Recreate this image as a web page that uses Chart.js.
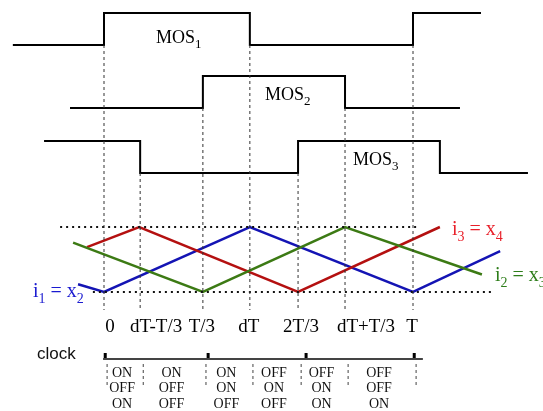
<!DOCTYPE html>
<html>
<head>
<meta charset="utf-8">
<script src="https://cdn.jsdelivr.net/npm/chart.js@4/dist/chart.umd.min.js"></script>
<style>
  html, body { margin: 0; padding: 0; background: #fff; }
</style>
</head>
<body>
<canvas id="chart" width="543" height="411"></canvas>
<script>
// event times over one period (T = 1)
const tickTimes = [0, 0.117, 0.32, 0.472, 0.628, 0.78, 1];
const tickLabels = ['0', 'dT-T/3', 'T/3', 'dT', '2T/3', 'dT+T/3', 'T'];

// gate signals, each state holds until the next time
const mos1Times = [-0.295, 0, 0.472, 1, 1.22];
const mos1States = [0, 1, 0, 1, 1];
const mos2Times = [-0.11, 0.32, 0.78, 1.152];
const mos2States = [0, 1, 0, 0];
const mos3Times = [-0.194, 0.117, 0.628, 1.087, 1.372];
const mos3States = [1, 0, 1, 0, 0];
const mosNames = ['MOS_1', 'MOS_2', 'MOS_3'];

// phase currents, 0 = lower dotted line, 1 = upper dotted line
const i1Times = [-0.084, 0, 0.472, 1, 1.282];
const i1Values = [0.12, 0, 1, 0, 0.63];
const i2Times = [-0.1, 0.32, 0.78, 1.223];
const i2Values = [0.76, 0, 1, 0.27];
const i3Times = [-0.055, 0.114, 0.628, 1.087];
const i3Values = [0.69, 1, 0, 1];
const currentNames = ['i_1 = x_2', 'i_2 = x_3', 'i_3 = x_4'];

const clockTimes = [0, 0.333, 0.65, 1];

// switch states in each interval between the ticks
const mos1Status = ['ON', 'ON', 'ON', 'OFF', 'OFF', 'OFF'];
const mos2Status = ['OFF', 'OFF', 'ON', 'ON', 'ON', 'OFF'];
const mos3Status = ['ON', 'OFF', 'OFF', 'OFF', 'ON', 'ON'];

// layout (vertical units run top to bottom)
const rows = [
  { high: 13, low: 45 },
  { high: 76, low: 108 },
  { high: 141, low: 173 }
];
const band = { top: 227, bottom: 292 };
const guideBottom = 310;
const guideTops = [45, 173, 108, 45, 173, 108, 45];
const clockY = 359;
const serif = '"Liberation Serif", "Times New Roman", serif';
const colors = { i1: '#1414b4', i2: '#3c7a14', i3: '#b41010' };
const labelColors = ['#1a1ad0', '#2e7d1a', '#e8202a'];

const stepData = (times, states, row) =>
  times.map((t, i) => ({ x: t, y: states[i] ? row.high : row.low }));
const currentData = (times, values) =>
  times.map((t, i) => ({ x: t, y: band.bottom - values[i] * (band.bottom - band.top) }));
const seg = (x1, y1, x2, y2) => [{ x: x1, y: y1 }, { x: x2, y: y2 }];

const datasets = [];
const line = (data, color, width, dash, extra) =>
  datasets.push(Object.assign({
    data, borderColor: color, borderWidth: width, borderDash: dash || [],
    showLine: true, pointRadius: 0, fill: false, tension: 0
  }, extra || {}));

// dashed guides
tickTimes.forEach((t, i) => line(seg(t, guideTops[i], t, guideBottom), '#333', 1, [3, 3]));
// dotted limits
line(seg(-0.142, band.top, 1.023, band.top), '#111', 2, [2, 4]);
line(seg(-0.036, band.bottom, 1.256, band.bottom), '#111', 2, [2, 4]);

line(stepData(mos1Times, mos1States, rows[0]), '#000', 2, null, { stepped: true });
line(stepData(mos2Times, mos2States, rows[1]), '#000', 2, null, { stepped: true });
line(stepData(mos3Times, mos3States, rows[2]), '#000', 2, null, { stepped: true });

line(currentData(i2Times, i2Values), colors.i2, 2.5);
line(currentData(i3Times, i3Values), colors.i3, 2.5);
line(currentData(i1Times, i1Values), colors.i1, 2.5);

// clock
line(seg(-0.003, clockY, 1.032, clockY), '#444', 2);
clockTimes.forEach(t => line(seg(t + 0.004, clockY - 6, t + 0.004, clockY), '#000', 3));
// table separators
tickTimes.forEach(t => line(seg(t + 0.01, 364, t + 0.01, 388), '#444', 1, [3, 3]));

// text with "_x" subscripts
function drawSub(ctx, text, x, y, size, color, align) {
  const parts = [];
  text.split(/(_.)/).forEach(p => {
    if (!p) return;
    if (p[0] === '_') parts.push({ s: p[1], sub: true });
    else parts.push({ s: p, sub: false });
  });
  const font = sub => (sub ? Math.round(size * 0.7) : size) + 'px ' + serif;
  let w = 0;
  parts.forEach(p => { ctx.font = font(p.sub); w += ctx.measureText(p.s).width; });
  let cx = align === 'center' ? x - w / 2 : x;
  ctx.fillStyle = color;
  ctx.textAlign = 'left';
  ctx.textBaseline = 'alphabetic';
  parts.forEach(p => {
    ctx.font = font(p.sub);
    ctx.fillText(p.s, cx, p.sub ? y + size * 0.28 : y);
    cx += ctx.measureText(p.s).width;
  });
}

const textPlugin = {
  id: 'texts',
  afterDatasetsDraw(chart) {
    const ctx = chart.ctx;
    const xs = chart.scales.x, ys = chart.scales.y;
    const px = t => xs.getPixelForValue(t);
    const py = v => ys.getPixelForValue(v);
    ctx.save();

    const mosPos = [[0.168, 43], [0.521, 100], [0.806, 165]];
    mosNames.forEach((n, i) => drawSub(ctx, n, px(mosPos[i][0]), py(mosPos[i][1]), 18, '#000', 'left'));

    const nudge = [6, 16, -1, -1, 3, 21, -1];
    tickLabels.forEach((l, i) => drawSub(ctx, l, px(tickTimes[i]) + nudge[i], py(332), 19, '#000', 'center'));

    const curPos = [[-0.23, 297], [1.265, 281], [1.126, 235]];
    currentNames.forEach((n, i) => drawSub(ctx, n, px(curPos[i][0]), py(curPos[i][1]), 20, labelColors[i], 'left'));

    ctx.font = '17px "Liberation Sans", Arial, sans-serif';
    ctx.fillStyle = '#111';
    ctx.textAlign = 'left';
    ctx.fillText('clock', px(-0.217), py(359));

    const status = [mos1Status, mos2Status, mos3Status];
    const rowY = [377, 392, 408];
    status.forEach((row, r) => row.forEach((s, c) => {
      const mid = (tickTimes[c] + tickTimes[c + 1]) / 2;
      drawSub(ctx, s, px(mid), py(rowY[r]), 14, '#111', 'center');
    }));
    ctx.restore();
  }
};

new Chart(document.getElementById('chart'), {
  type: 'scatter',
  data: { datasets },
  options: {
    responsive: false,
    animation: false,
    events: [],
    layout: { padding: 0 },
    plugins: { legend: { display: false }, tooltip: { enabled: false } },
    scales: {
      x: { type: 'linear', display: false, min: -104 / 309, max: 439 / 309 },
      y: { type: 'linear', display: false, min: 0, max: 411, reverse: true }
    }
  },
  plugins: [textPlugin]
});
</script>
</body>
</html>
